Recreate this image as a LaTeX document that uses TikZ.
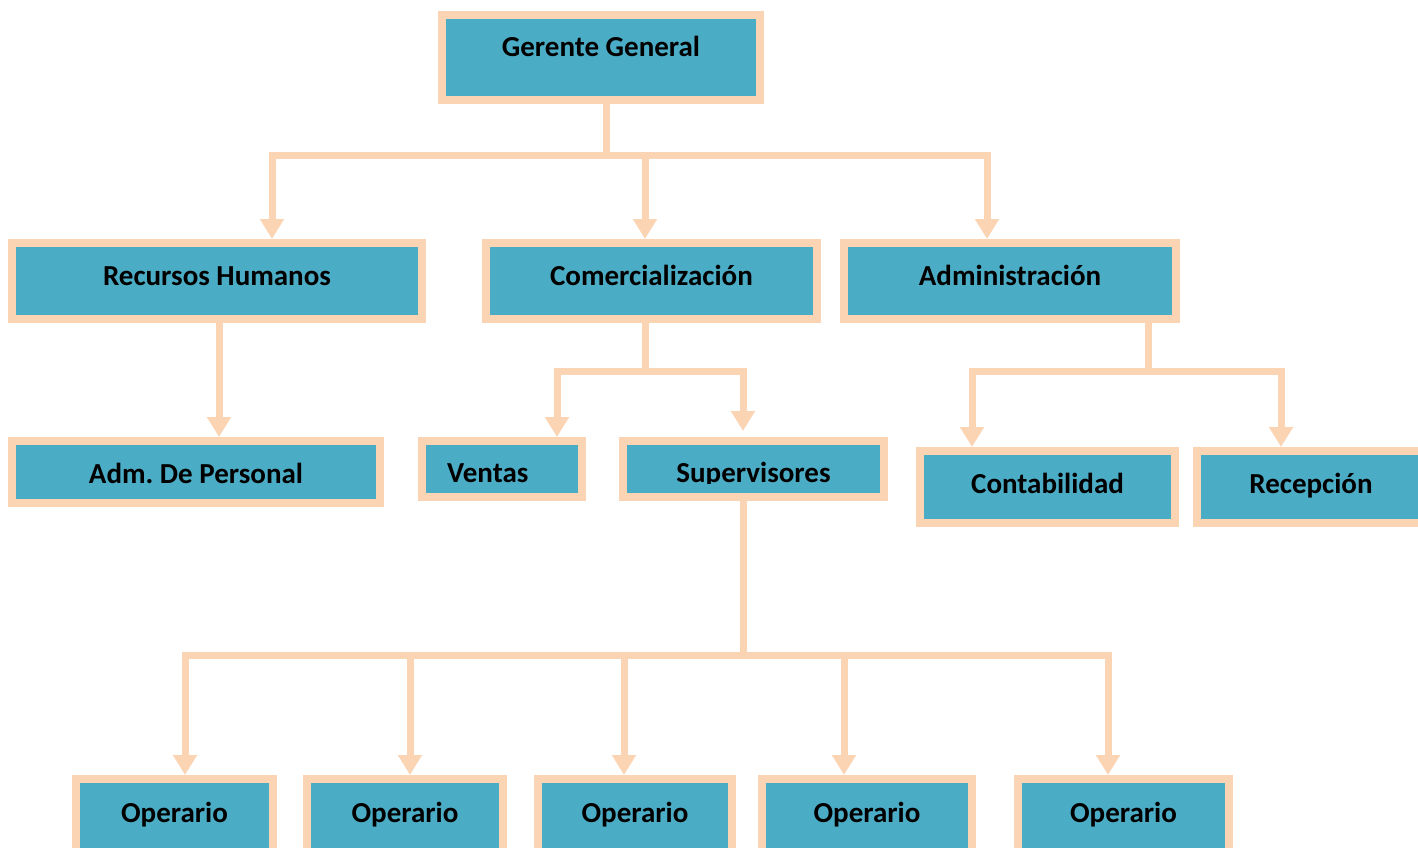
\documentclass[tikz,border=0pt]{standalone}
\usepackage{fontspec}
\setmainfont{Carlito}
\usetikzlibrary{arrows.meta,calc}
\definecolor{peach}{HTML}{FBD4B4}
\definecolor{boxteal}{HTML}{4BACC6}
\frenchspacing
\begin{document}
\begin{tikzpicture}[x=1pt,y=-1pt,
  box/.style={draw=peach, fill=boxteal, line width=8pt, rectangle, inner sep=0pt},
  lbl/.style={anchor=base, font=\bfseries\fontsize{29}{32}\selectfont, text=black, inner sep=0pt},
  ln/.style={color=peach, line width=7pt},
  arr/.style={ln, -{Triangle[width=23pt,length=20pt]}}]
\useasboundingbox (0,0) rectangle (1418,848);
\clip (0,0) rectangle (1418,848);

% boxes
\node[box, minimum width=318pt, minimum height=85pt] (gg) at (601,57.5) {};
\node[box, minimum width=409.5pt, minimum height=76pt] (rh) at (217,281) {};
\node[box, minimum width=331pt, minimum height=76pt] (com) at (651.5,281) {};
\node[box, minimum width=332pt, minimum height=76pt] (adm) at (1010,281) {};
\node[box, minimum width=368pt, minimum height=62pt] (adp) at (196,472) {};
\node[box, minimum width=160pt, minimum height=56pt] (ven) at (502,469) {};
\node[box, minimum width=261pt, minimum height=56pt] (sup) at (753.5,469) {};
\node[box, minimum width=255pt, minimum height=72pt] (con) at (1047.5,487) {};
\node[box, minimum width=228pt, minimum height=72pt] (rec) at (1311,487) {};
\node[box, minimum width=197pt, minimum height=76pt] (op1) at (174.5,817) {};
\node[box, minimum width=196pt, minimum height=76pt] (op2) at (405,817) {};
\node[box, minimum width=194pt, minimum height=76pt] (op3) at (635,817) {};
\node[box, minimum width=210pt, minimum height=76pt] (op4) at (867,817) {};
\node[box, minimum width=211pt, minimum height=76pt] (op5) at (1123.5,817) {};

% labels
\node[lbl] (ggt) at (601,57) {Gerente General};
\node[lbl] (rht) at (217,285) {Recursos Humanos};
\node[lbl] (comt) at (651.5,285) {Comercialización};
\node[lbl] (admt) at (1010,285) {Administración};
\node[lbl] (adpt) at (196,483) {Adm. De Personal};
\node[lbl] (cont) at (1047.5,493) {Contabilidad};
\node[lbl] (rect) at (1311,493) {Recepción};
\node[lbl] (op1t) at (174.5,822) {Operario};
\node[lbl] (op2t) at (405,822) {Operario};
\node[lbl] (op3t) at (635,822) {Operario};
\node[lbl] (op4t) at (867,822) {Operario};
\node[lbl] (op5t) at (1123.5,822) {Operario};
\begin{scope}
\clip (0,0) rectangle (1418,483.5);
\node[lbl, anchor=base west] (vent) at (447,482.5) {Ventas};
\node[lbl] (supt) at (753.5,482.5) {Supervisores};
\end{scope}

% junction points and drop lines
\coordinate (b1) at (606,155);
\coordinate (xrh) at (272,0);
\coordinate (xcom) at (645,0);
\coordinate (xadm) at (987,0);
\draw[arr] (gg.south -| b1) -- (b1) -| (rh.north -| xrh);
\draw[arr] (gg.south -| b1) -- (b1) -| (com.north -| xcom);
\draw[arr] (gg.south -| b1) -- (b1) -| (adm.north -| xadm);

\coordinate (xrhd) at (219,0);
\draw[arr] (rh.south -| xrhd) -- (adp.north -| xrhd);

\coordinate (c1) at (645.5,371);
\coordinate (xven) at (557,0);
\coordinate (xsup) at (743,0);
\coordinate (supend) at ($(sup.north -| xsup)+(0,-6)$);
\draw[arr] (com.south -| c1) -- (c1) -| (ven.north -| xven);
\draw[arr] (com.south -| c1) -- (c1) -| (supend);

\coordinate (a1) at (1148.5,371);
\coordinate (xcon) at (972,0);
\coordinate (xrec) at (1281,0);
\draw[arr] (adm.south -| a1) -- (a1) -| (con.north -| xcon);
\draw[arr] (adm.south -| a1) -- (a1) -| (rec.north -| xrec);

\coordinate (s1) at (743,655.5);
\coordinate (xo1) at (185,0);
\coordinate (xo2) at (410,0);
\coordinate (xo3) at (624,0);
\coordinate (xo4) at (844,0);
\coordinate (xo5) at (1108,0);
\draw[arr] (sup.south -| s1) -- (s1) -| (op1.north -| xo1);
\draw[arr] (sup.south -| s1) -- (s1) -| (op2.north -| xo2);
\draw[arr] (sup.south -| s1) -- (s1) -| (op3.north -| xo3);
\draw[arr] (sup.south -| s1) -- (s1) -| (op4.north -| xo4);
\draw[arr] (sup.south -| s1) -- (s1) -| (op5.north -| xo5);
\end{tikzpicture}
\end{document}
